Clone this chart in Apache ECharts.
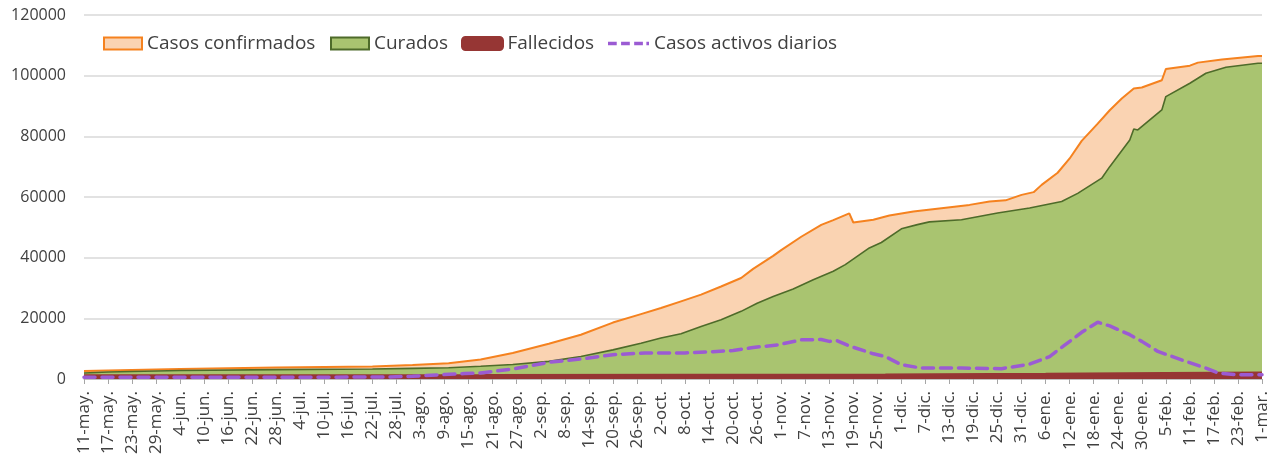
<!DOCTYPE html>
<html>
<head>
<meta charset="utf-8">
<script src="https://cdn.jsdelivr.net/npm/echarts@6/dist/echarts.min.js"></script>
<style>
html, body { margin: 0; background: #fff; }
#chart { width: 1281px; height: 465px; }
</style>
</head>
<body>
<div id="chart"></div>
<script>
// daily categories 11-may-2020 .. 1-mar-2021
const months = ['ene.', 'feb.', 'mar.', 'abr.', 'may.', 'jun.', 'jul.', 'ago.', 'sep.', 'oct.', 'nov.', 'dic.']
const dates = []
for (let i = 0; i < 295; i++) {
  const d = new Date(2020, 4, 11 + i)
  dates.push(d.getDate() + '-' + months[d.getMonth()])
}

// Casos confirmados (day index from 11-may, value)
const confDay = [0, 24, 48, 72, 82, 91, 99, 107, 116, 124, 132, 139, 144, 149, 154, 159, 164, 167, 172, 174, 179, 184, 187, 191, 192, 197, 201, 207, 214, 221, 226, 230, 234, 237, 239, 243, 246, 249, 253, 256, 259, 262, 264, 269, 270, 276, 278, 284, 293, 294]
const confVal = [2600, 3300, 3800, 4100, 4600, 5200, 6400, 8600, 11600, 14600, 18600, 21400, 23400, 25600, 27800, 30500, 33300, 36300, 40600, 42500, 46900, 50800, 52400, 54600, 51600, 52500, 53900, 55200, 56300, 57400, 58500, 58900, 60700, 61600, 64000, 68000, 72700, 78500, 84200, 88600, 92500, 95800, 96100, 98500, 102200, 103300, 104300, 105300, 106500, 106500]

// Curados
const curDay = [0, 6, 24, 48, 72, 82, 91, 99, 107, 116, 124, 132, 139, 144, 149, 154, 159, 164, 168, 172, 177, 182, 187, 190, 196, 199, 204, 208, 211, 219, 228, 236, 244, 248, 254, 256, 261, 262, 263, 266, 269, 270, 276, 280, 285, 293, 294]
const curVal = [2000, 2300, 2800, 3100, 3300, 3500, 3700, 4200, 4800, 5800, 7400, 9600, 11800, 13500, 14900, 17300, 19500, 22300, 25000, 27200, 29700, 32700, 35500, 37700, 43200, 45000, 49500, 50900, 51800, 52500, 54700, 56400, 58500, 61200, 66200, 70000, 78800, 82400, 82100, 85400, 88700, 93100, 97500, 100800, 102800, 104100, 104100]

// Fallecidos
const deadDay = [0, 100, 200, 240, 270, 294]
const deadVal = [1100, 1150, 1350, 1550, 1800, 2000]

// Casos activos diarios
const actDay = [0, 30, 60, 75, 82, 88, 95, 99, 107, 116, 124, 132, 140, 150, 157, 162, 167, 173, 179, 184, 186, 188, 191, 197, 200, 204, 209, 219, 229, 236, 241, 245, 249, 253, 256, 261, 264, 268, 275, 280, 283, 288, 294]
const actVal = [600, 600, 600, 650, 900, 1350, 1800, 2000, 3300, 5500, 6600, 8000, 8600, 8600, 9000, 9400, 10400, 11200, 12900, 13000, 12400, 12600, 10900, 8300, 7400, 4700, 3600, 3600, 3400, 4900, 7400, 11400, 15400, 18700, 17500, 14600, 12400, 9100, 5800, 3600, 2000, 1400, 1400]

const pairs = (xs, ys) => xs.map((x, i) => [x, ys[i]])

const txt = '#404040'
const font = 'Open Sans'
const legendText = { fontSize: 19, color: txt, fontFamily: font }

const chart = echarts.init(document.getElementById('chart'))
chart.setOption({
  animation: false,
  textStyle: { fontFamily: font },
  grid: { left: 84, right: 19, top: 15, bottom: 86 },
  legend: [
    {
      left: 103, top: 34, padding: 0, itemWidth: 38, itemHeight: 12, selectedMode: false,
      textStyle: legendText,
      data: [{ name: 'Casos confirmados', icon: 'rect', itemStyle: { color: '#FAD3B2', borderColor: '#F5821F', borderWidth: 2 } }]
    },
    {
      left: 330, top: 34, padding: 0, itemWidth: 38, itemHeight: 12, selectedMode: false,
      textStyle: legendText,
      data: [{ name: 'Curados', icon: 'rect', itemStyle: { color: '#A9C470', borderColor: '#4E6B2A', borderWidth: 2 } }]
    },
    {
      left: 461, top: 34, padding: 0, itemWidth: 40, itemHeight: 12, selectedMode: false,
      textStyle: legendText,
      data: [{ name: 'Fallecidos', icon: 'roundRect', itemStyle: { color: '#963634', borderColor: '#963634', borderWidth: 3 } }]
    },
    {
      left: 608, top: 34, padding: 0, itemWidth: 41, itemHeight: 4, selectedMode: false,
      textStyle: legendText,
      data: [{
        name: 'Casos activos diarios',
        icon: 'path://M0 0H10V4H0Z M15 0H25V4H15Z M30 0H40V4H30Z M44 0H47V4H44Z',
        itemStyle: { color: '#9B5BD3', borderWidth: 0 }
      }]
    }
  ],
  xAxis: {
    type: 'category',
    data: dates,
    boundaryGap: false,
    axisLine: { lineStyle: { color: '#BFBFBF' } },
    axisTick: { interval: 5, length: 5, lineStyle: { color: '#A6A6A6' } },
    axisLabel: { interval: 5, rotate: 90, margin: 12, fontSize: 17, color: txt, fontFamily: font }
  },
  yAxis: {
    type: 'value',
    min: 0,
    max: 120000,
    interval: 20000,
    axisLine: { show: false },
    axisTick: { show: false },
    axisLabel: { fontSize: 16, color: txt, margin: 18, fontFamily: font, formatter: v => String(v) },
    splitLine: { lineStyle: { color: '#D9D9D9', width: 1.5 } }
  },
  series: [
    {
      name: 'Casos confirmados',
      type: 'line',
      data: pairs(confDay, confVal),
      showSymbol: false,
      lineStyle: { color: '#F5821F', width: 2 },
      itemStyle: { color: '#F5821F' },
      areaStyle: { color: '#FAD3B2', opacity: 1 }
    },
    {
      name: 'Curados',
      type: 'line',
      data: pairs(curDay, curVal),
      showSymbol: false,
      lineStyle: { color: '#4E6B2A', width: 1.6 },
      itemStyle: { color: '#4E6B2A' },
      areaStyle: { color: '#A9C470', opacity: 1 }
    },
    {
      name: 'Fallecidos',
      type: 'line',
      data: pairs(deadDay, deadVal),
      showSymbol: false,
      lineStyle: { color: '#963634', width: 3 },
      itemStyle: { color: '#963634' },
      areaStyle: { color: '#963634', opacity: 1 }
    },
    {
      name: 'Casos activos diarios',
      type: 'line',
      data: pairs(actDay, actVal),
      showSymbol: false,
      lineStyle: { color: '#9B5BD3', width: 3.5, type: [11, 7], cap: 'round' },
      itemStyle: { color: '#9B5BD3' }
    }
  ]
})
</script>
</body>
</html>
